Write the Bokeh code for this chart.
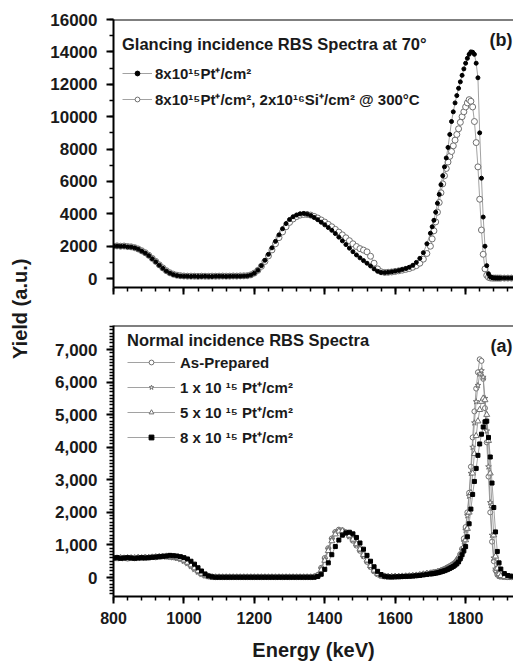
from math import pi
from bokeh.plotting import figure
from bokeh.models import (SingleIntervalTicker, NumeralTickFormatter, Legend, LegendItem,
                          Label, Span, Range1d, CustomJSTickFormatter)
from bokeh.layouts import row, column
from bokeh.embed import file_html
from bokeh.resources import INLINE

FONT = "Liberation Sans"

# ---------------- data ----------------
energy = [800, 810, 820, 830, 840, 850, 860, 870, 880, 890,
          900, 910, 920, 930, 940, 950, 960, 970, 980, 990,
          1000, 1010, 1020, 1030, 1040, 1050, 1060, 1070, 1080, 1090,
          1100, 1110, 1120, 1130, 1140, 1150, 1160, 1170, 1180, 1190,
          1200, 1210, 1220, 1230, 1240, 1250, 1260, 1270, 1280, 1290,
          1300, 1310, 1320, 1330, 1340, 1350, 1360, 1370, 1380, 1390,
          1400, 1410, 1420, 1430, 1440, 1450, 1460, 1470, 1480, 1490,
          1500, 1510, 1520, 1530, 1540, 1550, 1560, 1570, 1580, 1590,
          1600, 1610, 1620, 1630, 1640, 1650, 1660, 1670, 1680, 1690,
          1700,
          1705, 1710, 1715, 1720, 1725, 1730, 1735, 1740, 1745, 1750,
          1755, 1760, 1765, 1770, 1775, 1780, 1785, 1790, 1795, 1800,
          1805, 1810, 1815, 1820, 1825, 1830, 1835, 1840, 1845, 1850,
          1855, 1860, 1865, 1870, 1875, 1880, 1885, 1890, 1895, 1900,
          1910, 1920, 1930]

# (b) glancing incidence, 70 degrees
glancing_pt = [2000, 2010, 1990, 2000, 1960, 1950, 1900, 1820, 1700, 1580,
               1420, 1230, 1040, 830, 640, 470, 340, 250, 190, 160,
               150, 140, 135, 140, 130, 135, 140, 135, 130, 140,
               145, 140, 135, 140, 150, 145, 150, 160, 170, 220,
               330, 520, 800, 1130, 1500, 1900, 2300, 2700, 3080, 3400,
               3650, 3820, 3930, 4000, 4020, 3980, 3900, 3780, 3640, 3480,
               3320, 3150, 2980, 2780, 2560, 2330, 2100, 1880, 1660, 1460,
               1280, 1110, 950, 780, 600, 450, 380, 370, 390, 420,
               460, 500, 560, 620, 700, 820, 1000, 1250, 1600, 2150,
               2800,
               3200, 3600, 4100, 4650, 5200, 5800, 6350, 6900, 7450, 8100,
               8900, 9700, 10300, 10850, 11300, 11750, 12150, 12550, 12950, 13300,
               13600, 13850, 14000, 13980, 13850, 13300, 12400, 9000, 6200, 3800,
               2000, 800, 300, 120, 60, 40, 35, 30, 30, 30,
               30, 30, 30]

glancing_pt_si = [2000, 2020, 2000, 2010, 1980, 1960, 1910, 1830, 1720, 1600,
                  1440, 1250, 1060, 850, 660, 490, 360, 270, 210, 180,
                  160, 150, 150, 145, 140, 150, 145, 140, 150, 145,
                  150, 155, 150, 150, 160, 155, 165, 170, 180, 230,
                  340, 510, 760, 1060, 1400, 1770, 2150, 2530, 2880, 3200,
                  3470, 3680, 3830, 3920, 3960, 3960, 3920, 3840, 3740, 3620,
                  3490, 3350, 3200, 3040, 2870, 2700, 2520, 2340, 2150, 1980,
                  1850, 1760, 1650, 1380, 950, 600, 420, 380, 390, 410,
                  440, 480, 520, 570, 620, 700, 800, 950, 1200, 1550,
                  2000,
                  2450, 2950, 3500, 4100, 4700, 5300, 5850, 6350, 6800, 7200,
                  7550, 7850, 8200, 8550, 8900, 9250, 9650, 10000, 10300, 10600,
                  10850, 11050, 10950, 10600, 9700, 8400, 6900, 4900, 3000, 1500,
                  600, 200, 80, 40, 30, 30, 30, 30, 30, 30,
                  30, 30, 30]

# (a) normal incidence
normal_as_prepared = [600, 590, 610, 600, 580, 600, 590, 610, 600, 620,
                      610, 630, 620, 640, 650, 640, 630, 620, 600, 570,
                      520, 450, 360, 270, 180, 110, 60, 30, 15, 10,
                      10, 10, 10, 10, 10, 10, 10, 10, 10, 10,
                      10, 10, 10, 10, 10, 10, 10, 10, 10, 10,
                      10, 10, 10, 10, 10, 10, 10, 20, 80, 300,
                      600, 900, 1200, 1400, 1470, 1450, 1370, 1260, 1130, 980,
                      820, 650, 480, 320, 190, 100, 50, 30, 25, 25,
                      30, 30, 35, 40, 45, 55, 65, 80, 100, 120,
                      130,
                      140, 150, 160, 175, 190, 210, 235, 260, 290, 320,
                      350, 380, 420, 460, 520, 600, 720, 880, 1200, 1550,
                      2000, 2600, 3400, 4300, 5100, 5800, 6300, 6700, 6650, 6100,
                      5200, 4150, 3100, 2000, 1100, 500, 220, 90, 40, 25,
                      15, 10, 10]

normal_1e15 = [590, 600, 580, 600, 590, 610, 600, 590, 600, 610,
               620, 620, 630, 640, 640, 640, 630, 610, 590, 560,
               500, 430, 340, 250, 170, 100, 55, 30, 15, 10,
               10, 10, 10, 10, 10, 10, 10, 10, 10, 10,
               10, 10, 10, 10, 10, 10, 10, 10, 10, 10,
               10, 10, 10, 10, 10, 10, 10, 20, 70, 270,
               560, 870, 1170, 1370, 1440, 1430, 1360, 1260, 1140, 1000,
               840, 670, 500, 340, 200, 110, 55, 30, 25, 25,
               30, 30, 35, 40, 45, 55, 65, 80, 100, 120,
               130,
               140, 150, 160, 175, 190, 210, 230, 255, 285, 315,
               345, 375, 410, 450, 510, 580, 690, 840, 1100, 1450,
               1900, 2500, 3200, 4000, 4750, 5400, 5900, 6250, 6350, 6150,
               5500, 4500, 3400, 2300, 1300, 600, 260, 100, 45, 25,
               15, 10, 10]

normal_5e15 = [580, 590, 600, 590, 600, 590, 600, 610, 600, 600,
               610, 620, 630, 630, 640, 650, 640, 630, 610, 580,
               530, 460, 380, 290, 200, 120, 65, 35, 15, 10,
               10, 10, 10, 10, 10, 10, 10, 10, 10, 10,
               10, 10, 10, 10, 10, 10, 10, 10, 10, 10,
               10, 10, 10, 10, 10, 10, 10, 20, 60, 230,
               520, 820, 1120, 1330, 1420, 1430, 1380, 1290, 1170, 1030,
               870, 700, 530, 360, 220, 120, 60, 35, 25, 25,
               30, 30, 35, 40, 45, 55, 65, 80, 100, 120,
               130,
               135, 145, 155, 170, 185, 200, 220, 245, 270, 300,
               330, 360, 395, 430, 480, 540, 640, 780, 950, 1150,
               1500, 2000, 2600, 3200, 3800, 4350, 4800, 5150, 5400, 5500,
               5450, 5000, 4200, 3200, 2200, 1300, 650, 280, 110, 50,
               20, 10, 10]

normal_8e15 = [600, 610, 590, 600, 610, 600, 590, 600, 610, 600,
               610, 620, 630, 640, 650, 660, 680, 670, 660, 640,
               610, 570, 500, 410, 300, 200, 110, 50, 20, 10,
               10, 10, 10, 10, 10, 10, 10, 10, 10, 10,
               10, 10, 10, 10, 10, 10, 10, 10, 10, 10,
               10, 10, 10, 10, 10, 10, 10, 10, 30, 100,
               250, 450, 700, 950, 1150, 1300, 1370, 1390, 1340, 1230,
               1060, 870, 680, 500, 330, 190, 90, 40, 20, 15,
               20, 25, 30, 35, 40, 45, 55, 65, 80, 95,
               110,
               115, 125, 135, 145, 160, 175, 190, 210, 230, 255,
               280, 310, 340, 380, 420, 480, 580, 700, 820, 950,
               1250, 1650, 2100, 2550, 2950, 3350, 3750, 4100, 4400, 4620,
               4780, 4800, 4300, 3700, 2900, 2150, 1400, 800, 450, 260,
               120, 60, 40]

top_labels = ["8x10¹⁵Pt⁺/cm²",
              "8x10¹⁵Pt⁺/cm², 2x10¹⁶Si⁺/cm² @ 300°C"]
bottom_labels = ["As-Prepared",
                 "1 x 10 ¹⁵ Pt⁺/cm²",
                 "5 x 10 ¹⁵ Pt⁺/cm²",
                 "8 x 10 ¹⁵ Pt⁺/cm²"]
top_title = "Glancing incidence RBS Spectra at 70°"
bottom_title = "Normal incidence RBS Spectra"
x_title = "Energy (keV)"
y_title = "Yield (a.u.)"


# ---------------- helpers ----------------
def style_axes(p):
    for ax in list(p.xaxis) + list(p.yaxis):
        ax.axis_line_width = 2
        ax.major_tick_line_width = 2
        ax.minor_tick_line_width = 1.5
        ax.major_tick_in = 0
        ax.major_tick_out = 7
        ax.minor_tick_in = 0
        ax.minor_tick_out = 4
        ax.major_label_text_font = FONT
        ax.major_label_text_font_style = "bold"
        ax.major_label_text_font_size = "16px"
        ax.major_label_text_color = "#1a1a1a"
        ax.axis_label_text_font = FONT
        ax.axis_label_text_font_style = "bold"
        ax.axis_label_text_font_size = "20px"
        ax.axis_label_text_color = "#1a1a1a"
    for ax in p.yaxis:
        ax.major_label_text_font_size = "17px"
        ax.major_label_standoff = 9
    p.xgrid.grid_line_color = None
    p.ygrid.grid_line_color = None
    p.outline_line_color = None


def make_legend(items, title, x, y, glyph_w, standoff, spacing, title_standoff):
    return Legend(items=items, location=(x, y), title=title,
                  title_text_font=FONT, title_text_font_style="bold",
                  title_text_font_size="16.5px", title_text_color="#1a1a1a",
                  title_standoff=title_standoff,
                  label_text_font=FONT, label_text_font_style="bold",
                  label_text_font_size="15px", label_text_color="#1a1a1a",
                  border_line_color=None, background_fill_alpha=0,
                  glyph_width=glyph_w, glyph_height=12, label_height=20,
                  label_standoff=standoff, spacing=spacing, padding=6, margin=0)


LINE_C = "#8a8a8a"
X_END = 1936

# ---------------- top panel (b) ----------------
top = figure(width=477, height=307, x_range=Range1d(800, X_END), y_range=Range1d(-550, 16000),
             toolbar_location=None, output_backend="svg",
             min_border_left=77, min_border_right=0, min_border_top=19, min_border_bottom=20)
style_axes(top)
top.xaxis.ticker = SingleIntervalTicker(interval=200, num_minor_ticks=5)
top.yaxis.ticker = SingleIntervalTicker(interval=2000, num_minor_ticks=2)
top.xaxis.formatter = CustomJSTickFormatter(code="return '';")
top.add_layout(Span(location=16000, dimension="width", line_color="black", line_width=2))

l2 = top.line(energy, glancing_pt_si, line_color=LINE_C, line_width=0.8)
s2 = top.scatter(energy, glancing_pt_si, marker="circle", size=6, fill_color="white",
                 line_color="#6f6f6f", line_width=1)
l1 = top.line(energy, glancing_pt, line_color=LINE_C, line_width=0.8)
s1 = top.scatter(energy, glancing_pt, marker="circle", size=4, fill_color="black",
                 line_color="black")

top.add_layout(make_legend([LegendItem(label=top_labels[0], renderers=[l1, s1]),
                            LegendItem(label=top_labels[1], renderers=[l2, s2])],
                           top_title, 9, 178, 30, 3, 6, 9))
top.add_layout(Label(x=1933, y=14760, text="(b)", text_align="right", text_baseline="middle",
                     text_font=FONT, text_font_style="bold", text_font_size="18px",
                     text_color="#1a1a1a"))

# ---------------- bottom panel (a) ----------------
bot = figure(width=477, height=356, x_range=Range1d(800, X_END), y_range=Range1d(-583, 7737),
             toolbar_location=None, output_backend="svg",
             min_border_left=77, min_border_right=0, min_border_top=18, min_border_bottom=67)
style_axes(bot)
bot.xaxis.ticker = SingleIntervalTicker(interval=200, num_minor_ticks=5)
bot.yaxis.ticker = SingleIntervalTicker(interval=1000, num_minor_ticks=10)
bot.yaxis.formatter = NumeralTickFormatter(format="0,0")
bot.xaxis.axis_label = x_title
bot.xaxis.major_label_standoff = 8
bot.xaxis.axis_label_standoff = 12
bot.add_layout(Span(location=7737, dimension="width", line_color="black", line_width=2))

la = bot.line(energy, normal_as_prepared, line_color=LINE_C, line_width=0.8)
sa = bot.scatter(energy, normal_as_prepared, marker="circle", size=5, fill_color="white",
                 line_color="#707070", line_width=1)
lb = bot.line(energy, normal_1e15, line_color=LINE_C, line_width=0.8)
sb = bot.scatter(energy, normal_1e15, marker="star", size=6, fill_color="white",
                 line_color="#707070", line_width=1)
lc = bot.line(energy, normal_5e15, line_color=LINE_C, line_width=0.8)
sc = bot.scatter(energy, normal_5e15, marker="triangle", size=6, fill_color="white",
                 line_color="#707070", line_width=1)
ld = bot.line(energy, normal_8e15, line_color=LINE_C, line_width=0.8)
sd = bot.scatter(energy, normal_8e15, marker="square", size=4, fill_color="black",
                 line_color="black")

bot.add_layout(make_legend([LegendItem(label=bottom_labels[0], renderers=[la, sa]),
                            LegendItem(label=bottom_labels[1], renderers=[lb, sb]),
                            LegendItem(label=bottom_labels[2], renderers=[lc, sc]),
                            LegendItem(label=bottom_labels[3], renderers=[ld, sd])],
                           bottom_title, 14, 149, 48, 5, 5, 2))
bot.add_layout(Label(x=1933, y=7120, text="(a)", text_align="right", text_baseline="middle",
                     text_font=FONT, text_font_style="bold", text_font_size="18px",
                     text_color="#1a1a1a"))

# ---------------- shared y label ----------------
ylab = figure(width=36, height=663, x_range=Range1d(0, 1), y_range=Range1d(0, 1),
              toolbar_location=None, output_backend="svg", min_border=0)
ylab.xaxis.visible = False
ylab.yaxis.visible = False
ylab.grid.visible = False
ylab.outline_line_color = None
ylab.add_layout(Label(x=0.55, y=0.535, text=y_title, angle=pi / 2, text_align="center",
                      text_baseline="middle", text_font=FONT, text_font_style="bold",
                      text_font_size="20px", text_color="#1a1a1a"))

layout = row(ylab, column(top, bot))
open("out.html", "w").write(file_html(layout, INLINE))
